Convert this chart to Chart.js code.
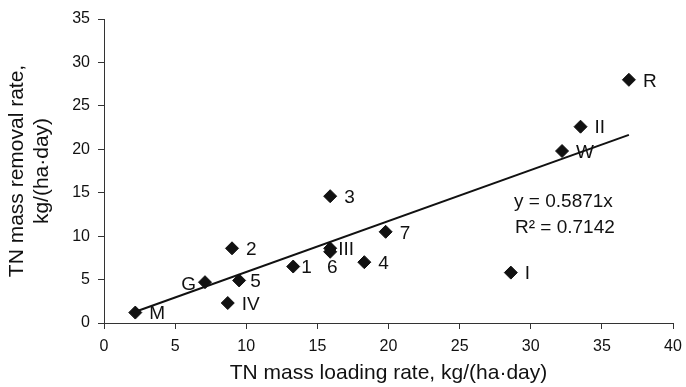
<!DOCTYPE html>
<html>
<head>
<meta charset="utf-8">
<script src="https://cdn.jsdelivr.net/npm/chart.js@4.4.0/dist/chart.umd.min.js"></script>
<style>
  html, body { margin: 0; padding: 0; background: #fff; }
  #wrap { width: 686px; height: 387px; position: relative; }
</style>
</head>
<body>
<div id="wrap"><canvas id="tnChart"></canvas></div>
<script>
// Data
const pointNames = ['M', 'G', 'IV', '2', '5', '1', '3', 'III', '6', '4', '7', 'I', 'W', 'II', 'R'];
const loadingRate = [2.2, 7.1, 8.7, 9.0, 9.5, 13.3, 15.9, 15.9, 15.9, 18.3, 19.8, 28.6, 32.2, 33.5, 36.9];
const removalRate = [1.2, 4.7, 2.3, 8.6, 4.9, 6.5, 14.6, 8.6, 8.2, 7.0, 10.5, 5.8, 19.8, 22.6, 28.0];
const xTicks = [0, 5, 10, 15, 20, 25, 30, 35, 40];
const yTicks = [0, 5, 10, 15, 20, 25, 30, 35];
const trendSlope = 0.5871;
const trendRange = [2.2, 36.9];
const equationLines = ['y = 0.5871x', 'R\u00B2 = 0.7142'];

const FONT = '"Liberation Sans", Arial, sans-serif';
const INK = '#111';

// posisi label titik (default: kanan)
const labelPlace = {
  'G': { side: 'left', gap: 9, dy: 3 },
  '6': { side: 'below', dx: 2, dy: 16 },
  '1': { gap: 8 },
  'III': { gap: 8 },
  '5': { gap: 11 }
};

const scatterData = loadingRate.map((x, i) => ({ x, y: removalRate[i] }));
const trendData = trendRange.map(x => ({ x, y: trendSlope * x }));

const pointLabels = {
  id: 'pointLabels',
  afterDatasetsDraw(chart) {
    const ctx = chart.ctx;
    const meta = chart.getDatasetMeta(0);
    ctx.save();
    ctx.font = '19px ' + FONT;
    ctx.fillStyle = INK;
    ctx.textBaseline = 'middle';
    meta.data.forEach((pt, i) => {
      const name = pointNames[i];
      const p = labelPlace[name] || {};
      if (p.side === 'left') {
        ctx.textAlign = 'right';
        ctx.fillText(name, pt.x - (p.gap || 14), pt.y + (p.dy || 0));
      } else if (p.side === 'below') {
        ctx.textAlign = 'center';
        ctx.fillText(name, pt.x + (p.dx || 0), pt.y + p.dy);
      } else {
        ctx.textAlign = 'left';
        ctx.fillText(name, pt.x + (p.gap || 14), pt.y + (p.dy === undefined ? 1.5 : p.dy));
      }
    });
    // persamaan regresi
    const xs = chart.scales.x, ys = chart.scales.y;
    ctx.textAlign = 'center';
    ctx.fillText(equationLines[0], xs.getPixelForValue(32.3), ys.getPixelForValue(14.0));
    ctx.fillText(equationLines[1], xs.getPixelForValue(32.4), ys.getPixelForValue(11.0));
    ctx.restore();
  }
};

const ctx = document.getElementById('tnChart').getContext('2d');
new Chart(ctx, {
  type: 'scatter',
  data: {
    datasets: [
      {
        label: 'TN', data: scatterData,
        pointStyle: 'rectRot', pointRadius: 6.5, pointHoverRadius: 6.5,
        backgroundColor: INK, borderColor: INK, borderWidth: 1
      },
      {
        label: 'Trend', data: trendData, showLine: true,
        pointRadius: 0, borderColor: INK, borderWidth: 2
      }
    ]
  },
  options: {
    responsive: true, maintainAspectRatio: false, animation: false,
    layout: { padding: { top: 19, right: 13, left: 0, bottom: 0 } },
    plugins: { legend: { display: false }, tooltip: { enabled: false } },
    scales: {
      x: {
        type: 'linear', min: 0, max: 40,
        afterBuildTicks: s => { s.ticks = xTicks.map(v => ({ value: v })); },
        // jangan biarkan label "40" menambah padding kanan
        afterFit: s => { s.height = 64; s.paddingLeft = 0; s.paddingRight = 0; },
        border: { color: '#333', width: 1 },
        grid: { drawOnChartArea: false, tickLength: 6, color: '#333' },
        ticks: { color: INK, font: { family: FONT, size: 16 }, padding: 8 },
        title: { display: true, text: 'TN mass loading rate, kg/(ha\u00B7day)', color: INK,
                 font: { family: FONT, size: 21 }, padding: { top: 0, bottom: 1 } }
      },
      y: {
        type: 'linear', min: 0, max: 35,
        afterBuildTicks: s => { s.ticks = yTicks.map(v => ({ value: v })); },
        afterFit: s => { s.width = 104; s.paddingTop = 0; s.paddingBottom = 0; },
        border: { color: '#333', width: 1 },
        grid: { drawOnChartArea: false, tickLength: 6, color: '#333' },
        ticks: { color: INK, font: { family: FONT, size: 16 }, padding: 8 },
        title: { display: true, text: ['TN mass removal rate,', 'kg/(ha\u00B7day)'], color: INK,
                 font: { family: FONT, size: 21, lineHeight: 1.19 }, padding: { top: 5, bottom: 0 } }
      }
    }
  },
  plugins: [pointLabels]
});
</script>
</body>
</html>
